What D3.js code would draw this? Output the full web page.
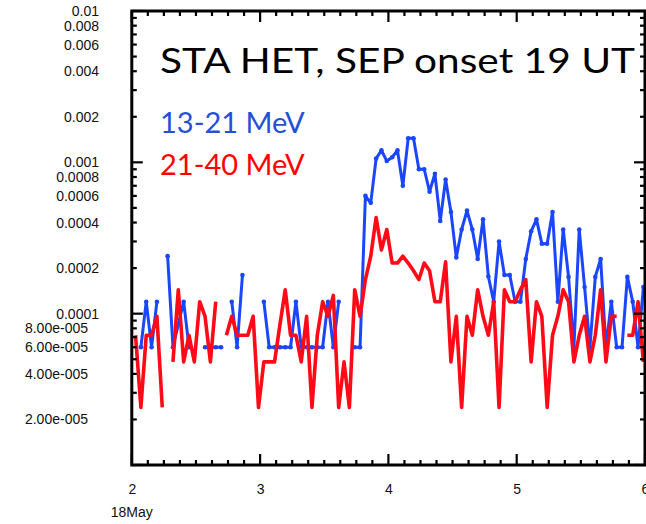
<!DOCTYPE html>
<html>
<head>
<meta charset="utf-8">
<script src="https://cdn.jsdelivr.net/npm/d3@7"></script>
<style>
  html, body { margin: 0; padding: 0; background: #fff; }
  svg { display: block; }
</style>
</head>
<body>
<svg id="chart" width="646" height="524"></svg>
<script>
// Hourly proton intensities, STEREO-A HET, days 2..6 of the time axis
const startDay = 2;          // first day on the time axis
const hoursPerDay = 24;
const sampleOffset = 0.7;    // hour offset of each hourly sample

// 13-21 MeV channel (null = no counts)
const chanLow = [
  null, 6e-5, 1.2e-4, 6e-5, 1.2e-4, null, 2.4e-4, 6e-5, 8.5e-5, 1.2e-4, 6e-5, null,
  null, 6e-5, 6e-5, 6e-5, 6e-5, null, 1.2e-4, 6e-5, 1.8e-4, null, null, null,
  1.2e-4, 6e-5, 6e-5, 6e-5, 6e-5, 6e-5, 1.2e-4, 6e-5, 6e-5, 6e-5, 6e-5, 6e-5,
  1.2e-4, 6e-5, 1.2e-4, null, null, 6e-5, 6e-5, 6.0e-4, 5.4e-4, 1.06e-3, 1.2e-3, 1.02e-3,
  1.08e-3, 1.2e-3, 7.0e-4, 1.44e-3, 1.44e-3, 9.0e-4, 9.0e-4, 6.4e-4, 8.4e-4, 4.1e-4, 7.7e-4, 4.7e-4,
  2.35e-4, 3.6e-4, 4.8e-4, 3.6e-4, 2.3e-4, 4.2e-4, 1.76e-4, 1.2e-4, 3.0e-4, 1.8e-4, 1.8e-4, 1.2e-4,
  1.2e-4, 2.3e-4, 3.5e-4, 4.2e-4, 2.9e-4, 2.9e-4, 4.7e-4, 1.2e-4, 3.6e-4, 1.75e-4, 6e-5, 3.6e-4,
  1.5e-4, 6e-5, 1.75e-4, 2.3e-4, 6e-5, 1.2e-4, 6e-5, 6e-5, 1.75e-4, 1.2e-4, 6e-5, 1.5e-4
];

// 21-40 MeV channel (null = no counts)
const chanHigh = [
  7.2e-5, 2.4e-5, 7.2e-5, 7.2e-5, 9.6e-5, 2.4e-5, null, 4.8e-5, 1.44e-4, 4.8e-5, 7.2e-5, 4.8e-5,
  1.2e-4, 9.6e-5, 4.8e-5, 1.2e-4, null, 7.2e-5, 9.6e-5, 7.2e-5, 7.2e-5, 7.2e-5, 9.6e-5, 2.4e-5,
  4.8e-5, 4.8e-5, 4.8e-5, 8.4e-5, 1.44e-4, 7.2e-5, 7.2e-5, 4.8e-5, 9.6e-5, 2.4e-5, 7.2e-5, 1.2e-4,
  9.6e-5, 1.32e-4, 2.4e-5, 4.8e-5, 2.4e-5, 1.44e-4, 9.6e-5, 1.68e-4, 2.4e-4, 4.32e-4, 2.64e-4, 3.6e-4,
  2.16e-4, 2.16e-4, 2.4e-4, 2.16e-4, 1.92e-4, 1.68e-4, 2.16e-4, 1.92e-4, 1.2e-4, 1.2e-4, 2.2e-4, 4.8e-5,
  9.6e-5, 2.4e-5, 9.6e-5, 7.2e-5, 1.44e-4, 9.6e-5, 7.2e-5, 1.2e-4, 2.4e-5, 1.44e-4, 1.2e-4, 1.2e-4,
  1.44e-4, 1.68e-4, 4.8e-5, 1.2e-4, 9.6e-5, 2.4e-5, 7.2e-5, 9.6e-5, 1.44e-4, 1.2e-4, 4.8e-5, 7.2e-5,
  9.6e-5, 4.8e-5, 7.2e-5, 1.44e-4, 4.8e-5, 9.6e-5, 9.6e-5, null, 7.2e-5, 7.2e-5, 1.2e-4, 4.8e-5
];

// Axis labels
const xTickValues = [2, 3, 4, 5, 6];
const xDateLabel = "18May";
const yLabelValues = [0.01, 0.008, 0.006, 0.004, 0.002, 0.001, 0.0008, 0.0006, 0.0004, 0.0002,
                      0.0001, 8e-5, 6e-5, 4e-5, 2e-5];
const yLabelTexts = ["0.01", "0.008", "0.006", "0.004", "0.002", "0.001", "0.0008", "0.0006",
                     "0.0004", "0.0002", "0.0001", "8.00e-005", "6.00e-005", "4.00e-005", "2.00e-005"];

const titleText = "STA HET, SEP onset 19 UT";
const legendTexts = ["13-21 MeV", "21-40 MeV"];

const blue = "#1a46ff", red = "#ff0a16";
const labelFont = "Liberation Sans, Arial, sans-serif";

const svg = d3.select("#chart");
const pLeft = 131.8, pRight = 645, pTop = 11, pBottom = 465;

const x = d3.scaleLinear().domain([2, 6]).range([pLeft, pRight]);
const y = d3.scaleLog().domain([1e-5, 1e-2]).range([pBottom, pTop]);

const tOf = i => startDay + (i + sampleOffset) / hoursPerDay;

// clip for data
svg.append("defs").append("clipPath").attr("id", "plotclip")
  .append("rect").attr("x", pLeft).attr("y", pTop).attr("width", pRight - pLeft).attr("height", pBottom - pTop);

const plot = svg.append("g").attr("clip-path", "url(#plotclip)");

const line = d3.line()
  .defined(d => d != null)
  .x((d, i) => x(tOf(i)))
  .y(d => y(d));

plot.append("path").datum(chanLow)
  .attr("d", line).attr("fill", "none").attr("stroke", blue)
  .attr("stroke-width", 3).attr("stroke-linejoin", "round");
plot.append("g").selectAll("circle")
  .data(chanLow.map((v, i) => ({v, i})).filter(d => d.v != null))
  .join("circle")
  .attr("cx", d => x(tOf(d.i))).attr("cy", d => y(d.v)).attr("r", 2.3).attr("fill", blue);

plot.append("path").datum(chanHigh)
  .attr("d", line).attr("fill", "none").attr("stroke", red)
  .attr("stroke-width", 3.6).attr("stroke-linejoin", "round");

// Axes: ticks inward on all four sides
const minorX = d3.range(2, 6.0001, 1 / 8);
const majorY = [1e-5, 1e-4, 1e-3, 1e-2];
const minorY = [];
[1e-5, 1e-4, 1e-3].forEach(dec => { for (let m = 2; m <= 9; m++) minorY.push(m * dec); });

const axisBottom = d3.axisBottom(x).tickValues(xTickValues).tickFormat(d3.format("d")).tickSize(0).tickPadding(0);

const frame = svg.append("g");
minorX.forEach(v => {
  const isMaj = Math.abs(v - Math.round(v)) < 1e-6;
  const len = isMaj ? 11 : 5;
  frame.append("line").attr("x1", x(v)).attr("x2", x(v)).attr("y1", pBottom).attr("y2", pBottom - len)
    .attr("stroke", "#000").attr("stroke-width", 2.2);
  frame.append("line").attr("x1", x(v)).attr("x2", x(v)).attr("y1", pTop).attr("y2", pTop + len)
    .attr("stroke", "#000").attr("stroke-width", 2.2);
});
majorY.concat(minorY).forEach(v => {
  const len = majorY.includes(v) ? 11 : 5;
  frame.append("line").attr("x1", pLeft).attr("x2", pLeft + len).attr("y1", y(v)).attr("y2", y(v))
    .attr("stroke", "#000").attr("stroke-width", 2.2);
  frame.append("line").attr("x1", pRight).attr("x2", pRight - len).attr("y1", y(v)).attr("y2", y(v))
    .attr("stroke", "#000").attr("stroke-width", 2.2);
});
frame.append("rect").attr("x", pLeft).attr("y", pTop).attr("width", pRight - pLeft).attr("height", pBottom - pTop)
  .attr("fill", "none").attr("stroke", "#000").attr("stroke-width", 3);

// x labels via axis generator
const xg = svg.append("g").attr("transform", `translate(0,${pBottom + 29})`).call(axisBottom);
xg.select(".domain").remove();
xg.selectAll("text").attr("font-family", labelFont)
  .attr("font-size", 14).attr("fill", "#111").attr("dy", 0);
svg.append("text").attr("x", x(2)).attr("y", pBottom + 52).attr("text-anchor", "middle")
  .attr("font-family", labelFont).attr("font-size", 14).attr("fill", "#111")
  .text(xDateLabel);

// y labels
svg.append("g").selectAll("text").data(yLabelValues).join("text")
  .attr("x", (d, i) => yLabelTexts[i].includes("e") ? 88 : 99)
  .attr("y", d => y(d)).attr("dy", "0.36em").attr("text-anchor", "end")
  .attr("font-family", labelFont).attr("font-size", 14).attr("fill", "#111")
  .text((d, i) => yLabelTexts[i]);

// Title and channel legend
svg.append("text").attr("x", 160).attr("y", 73)
  .attr("font-family", "Lato, 'Open Sans', sans-serif").attr("font-size", 35).attr("fill", "#000")
  .attr("textLength", 475).attr("lengthAdjust", "spacingAndGlyphs")
  .text(titleText);
svg.append("text").attr("x", 160).attr("y", 133)
  .attr("font-family", "Lato, 'Open Sans', sans-serif").attr("font-size", 29).attr("fill", "#2350d6")
  .text(legendTexts[0]);
svg.append("text").attr("x", 160).attr("y", 175)
  .attr("font-family", "Lato, 'Open Sans', sans-serif").attr("font-size", 29).attr("fill", "#ff0000")
  .text(legendTexts[1]);
</script>
</body>
</html>
